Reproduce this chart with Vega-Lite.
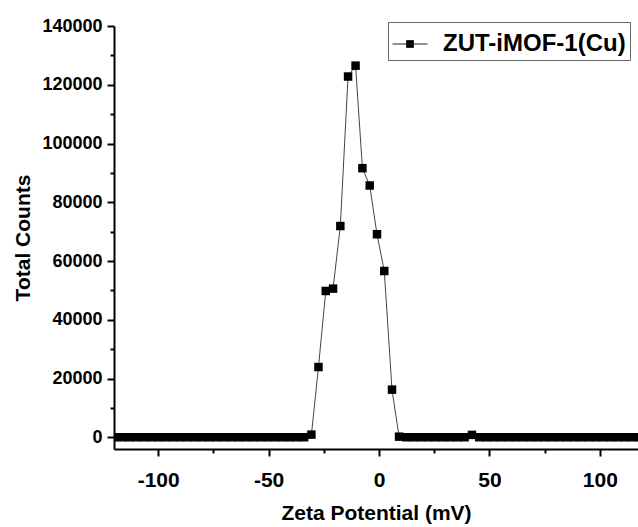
{
  "$schema": "https://vega.github.io/schema/vega-lite/v6.json",
  "width": 524,
  "height": 423,
  "autosize": {"type": "none"},
  "padding": {"left": 114, "top": 26, "right": 0, "bottom": 78},
  "background": "white",
  "config": {
    "view": {"stroke": null},
    "font": "Liberation Sans",
    "axis": {
      "grid": false,
      "domainColor": "black",
      "domainWidth": 2,
      "tickColor": "black",
      "tickWidth": 2,
      "labelColor": "black",
      "labelFont": "Liberation Sans",
      "labelFontWeight": "bold",
      "titleFont": "Liberation Sans",
      "titleFontWeight": "bold",
      "titleFontSize": 21,
      "titleColor": "black"
    }
  },
  "data": {
    "values": [
      {"v": -123.0, "c": 0, "s": "ZUT-iMOF-1(Cu)"},
      {"v": -119.7, "c": 0, "s": "ZUT-iMOF-1(Cu)"},
      {"v": -116.4, "c": 0, "s": "ZUT-iMOF-1(Cu)"},
      {"v": -113.1, "c": 0, "s": "ZUT-iMOF-1(Cu)"},
      {"v": -109.8, "c": 0, "s": "ZUT-iMOF-1(Cu)"},
      {"v": -106.5, "c": 0, "s": "ZUT-iMOF-1(Cu)"},
      {"v": -103.2, "c": 0, "s": "ZUT-iMOF-1(Cu)"},
      {"v": -99.9, "c": 0, "s": "ZUT-iMOF-1(Cu)"},
      {"v": -96.6, "c": 0, "s": "ZUT-iMOF-1(Cu)"},
      {"v": -93.3, "c": 0, "s": "ZUT-iMOF-1(Cu)"},
      {"v": -90.0, "c": 0, "s": "ZUT-iMOF-1(Cu)"},
      {"v": -86.7, "c": 0, "s": "ZUT-iMOF-1(Cu)"},
      {"v": -83.4, "c": 0, "s": "ZUT-iMOF-1(Cu)"},
      {"v": -80.1, "c": 0, "s": "ZUT-iMOF-1(Cu)"},
      {"v": -76.8, "c": 0, "s": "ZUT-iMOF-1(Cu)"},
      {"v": -73.5, "c": 0, "s": "ZUT-iMOF-1(Cu)"},
      {"v": -70.2, "c": 0, "s": "ZUT-iMOF-1(Cu)"},
      {"v": -66.9, "c": 0, "s": "ZUT-iMOF-1(Cu)"},
      {"v": -63.6, "c": 0, "s": "ZUT-iMOF-1(Cu)"},
      {"v": -60.3, "c": 0, "s": "ZUT-iMOF-1(Cu)"},
      {"v": -57.0, "c": 0, "s": "ZUT-iMOF-1(Cu)"},
      {"v": -53.7, "c": 0, "s": "ZUT-iMOF-1(Cu)"},
      {"v": -50.4, "c": 0, "s": "ZUT-iMOF-1(Cu)"},
      {"v": -47.1, "c": 0, "s": "ZUT-iMOF-1(Cu)"},
      {"v": -43.8, "c": 0, "s": "ZUT-iMOF-1(Cu)"},
      {"v": -40.5, "c": 0, "s": "ZUT-iMOF-1(Cu)"},
      {"v": -37.2, "c": 0, "s": "ZUT-iMOF-1(Cu)"},
      {"v": -33.9, "c": 0, "s": "ZUT-iMOF-1(Cu)"},
      {"v": -30.6, "c": 900, "s": "ZUT-iMOF-1(Cu)"},
      {"v": -27.4, "c": 23900, "s": "ZUT-iMOF-1(Cu)"},
      {"v": -24.1, "c": 49800, "s": "ZUT-iMOF-1(Cu)"},
      {"v": -20.8, "c": 50600, "s": "ZUT-iMOF-1(Cu)"},
      {"v": -17.5, "c": 71900, "s": "ZUT-iMOF-1(Cu)"},
      {"v": -14.0, "c": 122800, "s": "ZUT-iMOF-1(Cu)"},
      {"v": -10.6, "c": 126500, "s": "ZUT-iMOF-1(Cu)"},
      {"v": -7.5, "c": 91600, "s": "ZUT-iMOF-1(Cu)"},
      {"v": -4.2, "c": 85700, "s": "ZUT-iMOF-1(Cu)"},
      {"v": -0.9, "c": 69100, "s": "ZUT-iMOF-1(Cu)"},
      {"v": 2.4, "c": 56600, "s": "ZUT-iMOF-1(Cu)"},
      {"v": 5.9, "c": 16200, "s": "ZUT-iMOF-1(Cu)"},
      {"v": 9.1, "c": 200, "s": "ZUT-iMOF-1(Cu)"},
      {"v": 12.4, "c": 0, "s": "ZUT-iMOF-1(Cu)"},
      {"v": 15.7, "c": 0, "s": "ZUT-iMOF-1(Cu)"},
      {"v": 19.0, "c": 0, "s": "ZUT-iMOF-1(Cu)"},
      {"v": 22.3, "c": 0, "s": "ZUT-iMOF-1(Cu)"},
      {"v": 25.6, "c": 0, "s": "ZUT-iMOF-1(Cu)"},
      {"v": 28.9, "c": 0, "s": "ZUT-iMOF-1(Cu)"},
      {"v": 32.2, "c": 0, "s": "ZUT-iMOF-1(Cu)"},
      {"v": 35.5, "c": 0, "s": "ZUT-iMOF-1(Cu)"},
      {"v": 38.8, "c": 0, "s": "ZUT-iMOF-1(Cu)"},
      {"v": 42.1, "c": 800, "s": "ZUT-iMOF-1(Cu)"},
      {"v": 45.4, "c": 0, "s": "ZUT-iMOF-1(Cu)"},
      {"v": 48.7, "c": 0, "s": "ZUT-iMOF-1(Cu)"},
      {"v": 52.0, "c": 0, "s": "ZUT-iMOF-1(Cu)"},
      {"v": 55.3, "c": 0, "s": "ZUT-iMOF-1(Cu)"},
      {"v": 58.6, "c": 0, "s": "ZUT-iMOF-1(Cu)"},
      {"v": 61.9, "c": 0, "s": "ZUT-iMOF-1(Cu)"},
      {"v": 65.2, "c": 0, "s": "ZUT-iMOF-1(Cu)"},
      {"v": 68.5, "c": 0, "s": "ZUT-iMOF-1(Cu)"},
      {"v": 71.8, "c": 0, "s": "ZUT-iMOF-1(Cu)"},
      {"v": 75.1, "c": 0, "s": "ZUT-iMOF-1(Cu)"},
      {"v": 78.4, "c": 0, "s": "ZUT-iMOF-1(Cu)"},
      {"v": 81.7, "c": 0, "s": "ZUT-iMOF-1(Cu)"},
      {"v": 85.0, "c": 0, "s": "ZUT-iMOF-1(Cu)"},
      {"v": 88.3, "c": 0, "s": "ZUT-iMOF-1(Cu)"},
      {"v": 91.6, "c": 0, "s": "ZUT-iMOF-1(Cu)"},
      {"v": 94.9, "c": 0, "s": "ZUT-iMOF-1(Cu)"},
      {"v": 98.2, "c": 0, "s": "ZUT-iMOF-1(Cu)"},
      {"v": 101.5, "c": 0, "s": "ZUT-iMOF-1(Cu)"},
      {"v": 104.8, "c": 0, "s": "ZUT-iMOF-1(Cu)"},
      {"v": 108.1, "c": 0, "s": "ZUT-iMOF-1(Cu)"},
      {"v": 111.4, "c": 0, "s": "ZUT-iMOF-1(Cu)"},
      {"v": 114.7, "c": 0, "s": "ZUT-iMOF-1(Cu)"},
      {"v": 118.0, "c": 0, "s": "ZUT-iMOF-1(Cu)"},
      {"v": 121.3, "c": 0, "s": "ZUT-iMOF-1(Cu)"}
    ]
  },
  "encoding": {
    "x": {
      "field": "v",
      "type": "quantitative",
      "title": "Zeta Potential (mV)",
      "scale": {"domain": [-120, 117.3], "nice": false, "zero": false},
      "axis": {
        "values": [-100, -75, -50, -25, 0, 25, 50, 75, 100],
        "labelExpr": "datum.value % 50 === 0 ? '' + datum.value : ''",
        "tickSize": {"condition": {"test": "datum.value % 50 === 0", "value": 7}, "value": 4},
        "labelFontSize": 21,
        "labelPadding": 13,
        "titleFontSize": 21,
        "titlePadding": 12
      }
    },
    "y": {
      "field": "c",
      "type": "quantitative",
      "title": "Total Counts",
      "scale": {"domain": [-4000, 140000], "nice": false, "zero": false},
      "axis": {
        "values": [0, 10000, 20000, 30000, 40000, 50000, 60000, 70000, 80000, 90000, 100000, 110000, 120000, 130000, 140000],
        "labelExpr": "datum.value % 20000 === 0 ? '' + datum.value : ''",
        "tickSize": {"condition": {"test": "datum.value % 20000 === 0", "value": 7}, "value": 4},
        "labelFontSize": 18,
        "labelPadding": 5,
        "titleFontSize": 21,
        "titlePadding": 8
      }
    }
  },
  "layer": [
    {
      "mark": {"type": "line", "color": "#444444", "strokeWidth": 1, "clip": true}
    },
    {
      "mark": {"type": "point", "shape": "square", "filled": true, "size": 72, "opacity": 1, "clip": true},
      "encoding": {
        "color": {
          "field": "s",
          "type": "nominal",
          "scale": {"range": ["#000000"]},
          "legend": {
            "title": null,
            "orient": "none",
            "legendX": 274,
            "legendY": -4,
            "padding": 4,
            "strokeColor": "#666666",
            "fillColor": "white",
            "labelFont": "Liberation Sans",
            "labelFontWeight": "bold",
            "labelFontSize": 24,
            "labelLimit": 400,
            "labelColor": "black",
            "labelOffset": 15,
            "symbolType": "M-1,0H1M-0.2,-0.2H0.2V0.2H-0.2Z",
            "symbolSize": 1225,
            "symbolStrokeWidth": 1,
            "symbolFillColor": "black",
            "symbolStrokeColor": "#222222",
            "encode": {
              "symbols": {
                "fill": {"value": "black"},
                "stroke": {"value": "#222222"},
                "strokeWidth": {"value": 1}
              }
            }
          }
        }
      }
    }
  ]
}
